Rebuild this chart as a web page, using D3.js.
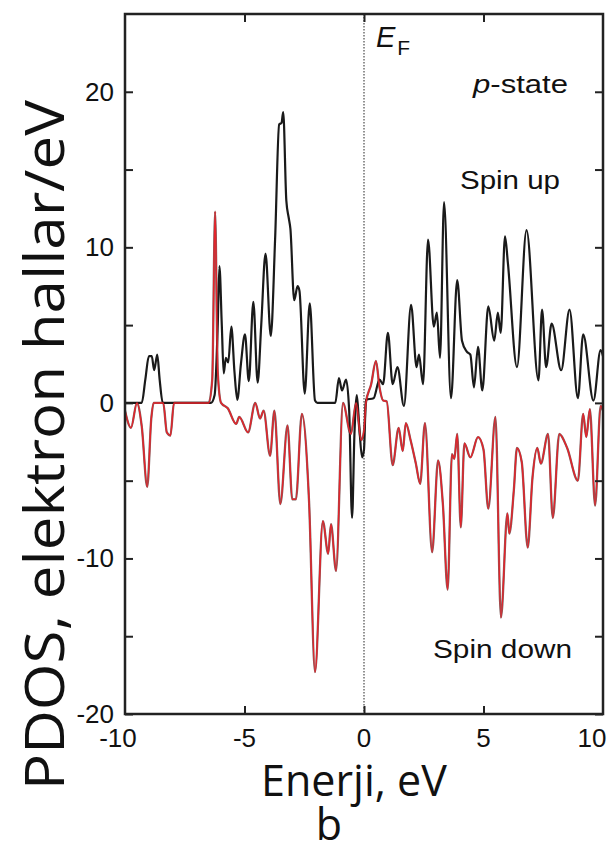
<html>
<head>
<meta charset="utf-8">
<style>
  body { margin: 0; background: white; }
  text { fill: #111; }
</style>
</head>
<body>
<svg id="chart" width="613" height="852" style="background:white;"></svg>

<script src="https://cdnjs.cloudflare.com/ajax/libs/d3/7.8.5/d3.min.js"></script>
<script>
// energy (eV) and PDOS values
var upE = [-10, -9.3, -9.15, -9.0, -8.88, -8.78, -8.65, -8.55, -8.42, -6.4, -6.25, -6.12, -6.05, -5.95, -5.87,
  -5.78, -5.68, -5.55, -5.42, -5.3, -5.15, -4.98, -4.82, -4.63, -4.45, -4.3, -4.12, -3.9, -3.72, -3.55, -3.45,
  -3.38, -3.25, -3.15, -3.08, -2.92, -2.78, -2.7, -2.48, -2.27, -2.05, -1.95, -1.2, -1.05, -0.92, -0.75, -0.62,
  -0.5, -0.4, -0.3, -0.2, -0.08, 0.0, 0.08, 0.4, 0.65, 0.8, 1.0, 1.2, 1.4, 1.67, 1.97, 2.2, 2.3, 2.47, 2.68,
  2.92, 3.05, 3.18, 3.35, 3.64, 3.9, 4.1, 4.3, 4.45, 4.6, 4.77, 4.95, 5.2, 5.45, 5.6, 5.72, 5.9, 6.02, 6.4,
  6.8, 7.3, 7.45, 7.62, 7.85, 8.25, 8.6, 8.95, 9.17, 9.6, 9.9, 10];
var upV = [0, 0, 1.5, 3.0, 3.0, 2.1, 3.1, 1.5, 0, 0, 0.5, 5.0, 8.8, 5.0, 1.9,
  2.9, 2.6, 4.9, 2.0, 0.2, 2.5, 4.4, 1.4, 6.5, 1.3, 5.0, 9.6, 4.3, 10.5, 17.9, 18.0,
  18.7, 13, 11.9, 11.2, 6.6, 7.5, 7.2, 0.6, 6.4, 0.15, 0, 0, 1.6, 0.8, 1.5, -0.5,
  -7.4, -2.0, 0.5, -1.5, -3.5, -3.0, 0.2, 0.3, 1.5, 1.2, 4.5, 1.2, 2.3, -0.2, 6.3, 2.3, 3.1, 1.2, 10.5,
  4.9, 5.8, 2.9, 12.9, 0.3, 7.9, 4.0, 3.3, 3.1, 1.0, 3.6, 0.8, 6.2, 4.0, 5.8, 4.5, 10.7, 9.0, 2.3,
  11.1, 1.45, 6.0, 2.3, 5.1, 2.1, 6.0, 0.3, 4.4, 0.15, 3.4, 3.0];

var downE = [-10, -9.75, -9.5, -9.3, -9.07, -8.9, -8.8, -8.4, -8.25, -8.1, -7.95, -6.5, -6.35, -6.23, -6.12,
  -5.98, -5.7, -5.35, -5.22, -4.85, -4.55, -4.35, -4.2, -3.93, -3.75, -3.5, -3.2, -3.0, -2.85, -2.6, -2.3,
  -2.05, -1.72, -1.5, -1.38, -1.17, -0.88, -0.55, -0.33, -0.12, 0.0, 0.08, 0.3, 0.5, 0.65, 0.8, 0.95, 1.2,
  1.45, 1.62, 1.75, 1.95, 2.17, 2.35, 2.55, 2.85, 3.1, 3.3, 3.5, 3.68, 3.78, 3.9, 4.05, 4.2, 4.45, 4.77,
  5.0, 5.2, 5.5, 5.73, 6.0, 6.08, 6.27, 6.4, 6.6, 6.85, 7.05, 7.25, 7.4, 7.7, 7.9, 8.17, 8.5, 8.95, 9.17,
  9.3, 9.45, 9.67, 9.9, 10];
var downV = [-0.5, -1.6, 0, -1.5, -5.4, -1.0, 0, 0, -1.9, -2.1, 0, 0, 1.5, 12.3, 2.0,
  0, -0.35, -1.35, -0.9, -1.9, 0, -1.0, -0.5, -3.4, -0.5, -6.5, -1.45, -6.2, -6.2, -0.7, -6.3,
  -17.3, -7.6, -9.7, -7.8, -10.8, 0, -2.0, 0, -2.4, -1.8, 0, 1.2, 2.7, 1.0, 0.15, 0.1, -4.0,
  -1.6, -3.1, -1.3, -2.4, -3.9, -5.2, -1.3, -9.6, -3.7, -6.5, -12.0, -3.3, -3.6, -2.0, -8.0, -2.6, -3.5, -2.2,
  -3.0, -6.8, -0.9, -13.8, -7.1, -8.4, -5.6, -2.9, -3.8, -9.3, -4.8, -2.9, -3.9, -2.0, -7.4, -2.0, -2.9, -5.0, -0.7,
  -2.2, -0.4, -6.6, -0.2, -0.5];

var xTicks = [-10, -5, 0, 5, 10];
var yTicks = [-20, -10, 0, 10, 20];
var yMinor = [-15, -5, 5, 15];

var svg = d3.select('#chart');
var plotL = 125, plotR = 603, plotT = 14, plotB = 714;

var x = d3.scaleLinear().domain([-10, 10]).range([plotL, plotR]);
var y = d3.scaleLinear().domain([-20, 25]).range([plotB, plotT]);

var up = upE.map(function(e, i) { return [e, upV[i]]; });
var down = downE.map(function(e, i) { return [e, downV[i]]; });

var line = d3.line()
  .x(function(d) { return x(d[0]); })
  .y(function(d) { return y(d[1]); })
  .curve(d3.curveMonotoneX);

var plot = svg.append('g');

// Fermi level
plot.append('line')
  .attr('x1', x(0)).attr('x2', x(0))
  .attr('y1', y(25)).attr('y2', y(-20))
  .attr('stroke', '#777').attr('stroke-width', 1.6)
  .attr('stroke-dasharray', '1.5,1.5');

plot.append('path').datum(up)
  .attr('d', line).attr('fill', 'none')
  .attr('stroke', '#1a1a1a').attr('stroke-width', 2.2)
  .attr('stroke-linejoin', 'round');

// spin down: red over a faint dark edge, like the scan
plot.append('path').datum(down)
  .attr('d', line).attr('fill', 'none')
  .attr('stroke', '#4a2020').attr('stroke-width', 2.3).attr('stroke-opacity', 0.7)
  .attr('stroke-linejoin', 'round');
plot.append('path').datum(down)
  .attr('d', line).attr('fill', 'none')
  .attr('stroke', '#e3242b').attr('stroke-width', 1.5)
  .attr('stroke-linejoin', 'round');

// axes with inward ticks, labels drawn separately
var tickFont = 'Liberation Sans, Arial, sans-serif';

var xb = svg.append('g').attr('transform', 'translate(0,' + plotB + ')')
  .call(d3.axisBottom(x).tickValues([-5, 0, 5]).tickSize(-8).tickFormat(''));
var xt = svg.append('g').attr('transform', 'translate(0,' + plotT + ')')
  .call(d3.axisTop(x).tickValues([-5, 0, 5]).tickSize(-8).tickFormat(''));
var yl = svg.append('g').attr('transform', 'translate(' + plotL + ',0)')
  .call(d3.axisLeft(y).tickValues(yTicks.concat(yMinor)).tickSize(-8).tickFormat(''));
var yr = svg.append('g').attr('transform', 'translate(' + plotR + ',0)')
  .call(d3.axisRight(y).tickValues(yTicks.concat(yMinor)).tickSize(-8).tickFormat(''));

[xb, xt, yl, yr].forEach(function(g) {
  g.select('.domain').remove();
  g.selectAll('.tick line').attr('stroke', '#222').attr('stroke-width', 2);
});

// frame
svg.append('rect')
  .attr('x', plotL).attr('y', plotT)
  .attr('width', plotR - plotL).attr('height', plotB - plotT)
  .attr('fill', 'none').attr('stroke', '#222').attr('stroke-width', 2.5);

// tick labels
svg.append('g').selectAll('text').data(xTicks).enter().append('text')
  .attr('x', function(d) { return x(d) + (d === 10 ? -11 : (d === -10 ? -7 : 0)); })
  .attr('y', plotB + 33)
  .attr('text-anchor', 'middle')
  .style('font-family', tickFont).style('font-size', '26px')
  .text(function(d) { return d; });

svg.append('g').selectAll('text').data(yTicks).enter().append('text')
  .attr('x', plotL - 11)
  .attr('y', function(d) { return y(d) + 9; })
  .attr('text-anchor', 'end')
  .style('font-family', tickFont).style('font-size', '26px')
  .text(function(d) { return d; });

// axis titles
var titleFont = 'Open Sans, Noto Sans, sans-serif';
svg.append('text')
  .attr('transform', 'translate(64,445) rotate(-90)')
  .attr('text-anchor', 'middle')
  .attr('textLength', 690).attr('lengthAdjust', 'spacingAndGlyphs')
  .style('font-family', titleFont).style('font-size', '55px')
  .text('PDOS, elektron hallar/eV');

svg.append('text')
  .attr('x', 354).attr('y', 796)
  .attr('text-anchor', 'middle')
  .style('font-family', titleFont).style('font-size', '43px')
  .text('Enerji, eV');

svg.append('text')
  .attr('x', 329).attr('y', 840)
  .attr('text-anchor', 'middle')
  .style('font-family', titleFont).style('font-size', '43px')
  .text('b');

// annotations
var ef = svg.append('text').attr('x', 376).attr('y', 47)
  .style('font-family', tickFont).style('font-size', '29px');
ef.append('tspan').style('font-style', 'italic').text('E');
ef.append('tspan').attr('dy', 8).attr('dx', 2).style('font-size', '21px').text('F');

var ps = svg.append('text').attr('x', 473).attr('y', 93)
  .attr('textLength', 95).attr('lengthAdjust', 'spacingAndGlyphs')
  .style('font-family', tickFont).style('font-size', '25px');
ps.append('tspan').style('font-style', 'italic').text('p');
ps.append('tspan').text('-state');

svg.append('text').attr('x', 460).attr('y', 189)
  .attr('textLength', 100).attr('lengthAdjust', 'spacingAndGlyphs')
  .style('font-family', tickFont).style('font-size', '25px')
  .text('Spin up');

svg.append('text').attr('x', 433).attr('y', 658)
  .attr('textLength', 139).attr('lengthAdjust', 'spacingAndGlyphs')
  .style('font-family', tickFont).style('font-size', '25px')
  .text('Spin down');
</script>
</body>
</html>
